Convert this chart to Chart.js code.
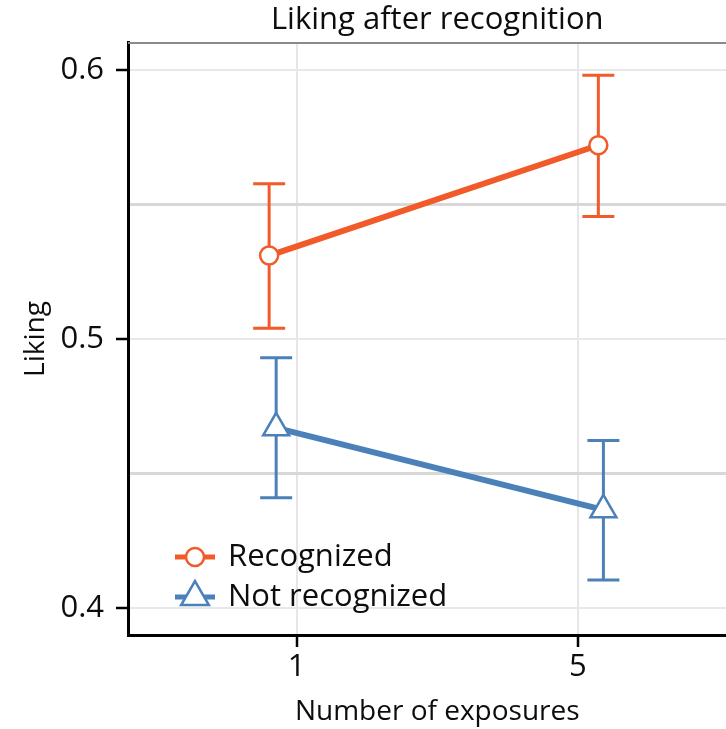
<!DOCTYPE html>
<html>
<head>
<meta charset="utf-8">
<script src="https://cdn.jsdelivr.net/npm/chart.js@4"></script>
<style>
html,body{margin:0;padding:0;background:#fff;overflow:hidden;width:726px;height:729px}
#c{display:block;position:absolute;left:0;top:0}
</style>
</head>
<body>
<canvas id="c" width="764" height="729" style="width:764px;height:729px"></canvas>
<script>
// ---- data ----
const categories = ['1', '5'];
const categoryPositions = [1, 2];
const seriesNames = ['Recognized', 'Not recognized'];
const recognizedDodge = [-0.098, 0.073];
const notRecognizedDodge = [-0.073, 0.091];
const recognizedMean = [0.531, 0.572];
const recognizedLow = [0.504, 0.5455];
const recognizedHigh = [0.5577, 0.598];
const notRecognizedMean = [0.467, 0.4365];
const notRecognizedLow = [0.441, 0.4104];
const notRecognizedHigh = [0.493, 0.4623];
const yTicks = [0.4, 0.45, 0.5, 0.55, 0.6];
const yLabelledTicks = [0.4, 0.5, 0.6];

const ORANGE = '#F15A29';
const BLUE = '#4B80B8';
const FONT = "'Open Sans', 'DejaVu Sans', sans-serif";
const FS = 31;
const TEXT = '#0d0d0d';

function pts(means, dodge) {
  return means.map((m, i) => ({ x: categoryPositions[i] + dodge[i], y: m }));
}

const errorBars = {
  id: 'errorBars',
  beforeDatasetsDraw(chart) {
    const ctx = chart.ctx;
    const xs = chart.scales.x, ys = chart.scales.y;
    chart.data.datasets.forEach(ds => {
      ctx.save();
      ctx.strokeStyle = ds.borderColor;
      ctx.lineWidth = 3;
      ds.data.forEach((p, i) => {
        const x = xs.getPixelForValue(p.x);
        const yl = ys.getPixelForValue(ds.low[i]);
        const yh = ys.getPixelForValue(ds.high[i]);
        ctx.beginPath();
        ctx.moveTo(x, yl); ctx.lineTo(x, yh);
        ctx.moveTo(x - 16, yl); ctx.lineTo(x + 16, yl);
        ctx.moveTo(x - 16, yh); ctx.lineTo(x + 16, yh);
        ctx.stroke();
      });
      ctx.restore();
    });
  }
};

const panelExtras = {
  id: 'panelExtras',
  afterDraw(chart) {
    const ctx = chart.ctx, ca = chart.chartArea;
    ctx.save();
    ctx.strokeStyle = '#8a8a8a';
    ctx.lineWidth = 2;
    ctx.beginPath();
    ctx.moveTo(ca.left, ca.top); ctx.lineTo(ca.right, ca.top);
    ctx.stroke();
    const rows = [ca.bottom - 78, ca.bottom - 38];
    chart.data.datasets.forEach((ds, i) => {
      const y = rows[i];
      const x0 = ca.left + 47, x1 = ca.left + 87, xm = ca.left + 67;
      ctx.strokeStyle = ds.borderColor;
      ctx.lineWidth = 5;
      ctx.beginPath(); ctx.moveTo(x0, y); ctx.lineTo(x1, y); ctx.stroke();
      ctx.fillStyle = '#fff';
      ctx.lineWidth = 2.5;
      ctx.beginPath();
      if (ds.pointStyle === 'circle') {
        ctx.arc(xm, y, 9, 0, Math.PI * 2);
      } else {
        const r = 16;
        ctx.moveTo(xm, y - r);
        ctx.lineTo(xm + r * Math.sin(2 * Math.PI / 3), y - r * Math.cos(2 * Math.PI / 3));
        ctx.lineTo(xm + r * Math.sin(4 * Math.PI / 3), y - r * Math.cos(4 * Math.PI / 3));
        ctx.closePath();
      }
      ctx.fill(); ctx.stroke();
      ctx.fillStyle = TEXT;
      ctx.font = FS + 'px ' + FONT;
      ctx.textBaseline = 'middle';
      ctx.textAlign = 'left';
      ctx.fillText(ds.label, ca.left + 100, y);
    });
    ctx.restore();
  }
};

new Chart(document.getElementById('c'), {
  type: 'line',
  data: {
    datasets: [
      {
        label: seriesNames[0],
        data: pts(recognizedMean, recognizedDodge),
        low: recognizedLow, high: recognizedHigh,
        borderColor: ORANGE, backgroundColor: ORANGE,
        borderWidth: 6,
        pointStyle: 'circle', pointRadius: 9,
        pointBackgroundColor: '#fff', pointBorderColor: ORANGE, pointBorderWidth: 2.5
      },
      {
        label: seriesNames[1],
        data: pts(notRecognizedMean, notRecognizedDodge),
        low: notRecognizedLow, high: notRecognizedHigh,
        borderColor: BLUE, backgroundColor: BLUE,
        borderWidth: 6,
        pointStyle: 'triangle', pointRadius: 15,
        pointBackgroundColor: '#fff', pointBorderColor: BLUE, pointBorderWidth: 2.5
      }
    ]
  },
  options: {
    responsive: false,
    maintainAspectRatio: false,
    devicePixelRatio: 1,
    animation: false,
    layout: { padding: 0 },
    plugins: {
      legend: { display: false },
      tooltip: { enabled: false },
      title: {
        display: true,
        text: 'Liking after recognition',
        fullSize: false,
        color: TEXT,
        font: { family: FONT, size: FS, weight: 'normal', lineHeight: 1.2 },
        padding: { top: 2, bottom: 3.8 }
      }
    },
    scales: {
      x: {
        type: 'linear',
        min: 0.4, max: 2.6,
        afterFit(s) { s.height = 94; },
        afterBuildTicks(s) { s.ticks = categoryPositions.map(v => ({ value: v })); },
        ticks: {
          callback: v => { const i = categoryPositions.indexOf(v); return i >= 0 ? categories[i] : ''; },
          color: TEXT, padding: 2, maxRotation: 0,
          font: { family: FONT, size: FS }
        },
        grid: { color: '#e6e6e6', lineWidth: 2, tickColor: '#000', tickLength: 12, tickWidth: 2.5 },
        border: { color: '#000', width: 3 },
        title: {
          display: true, text: 'Number of exposures', color: TEXT,
          font: { family: FONT, size: 28 }, padding: { top: 0, bottom: 0 }
        }
      },
      y: {
        type: 'linear',
        min: 0.39, max: 0.61,
        afterFit(s) { s.width = 128; },
        afterBuildTicks(s) { s.ticks = yTicks.map(v => ({ value: v })); },
        ticks: {
          callback: v => yLabelledTicks.includes(v) ? v.toFixed(1) : '',
          color: TEXT, padding: 12,
          font: { family: FONT, size: FS }
        },
        grid: {
          color: c => (c.tick && yLabelledTicks.includes(c.tick.value)) ? '#e8e8e8' : '#d8d8d8',
          lineWidth: c => (c.tick && yLabelledTicks.includes(c.tick.value)) ? 2 : 3,
          tickColor: c => (c.tick && yLabelledTicks.includes(c.tick.value)) ? '#000' : 'rgba(0,0,0,0)',
          tickLength: 12, tickWidth: 2.5
        },
        border: { color: '#000', width: 3 },
        title: {
          display: true, text: 'Liking', color: TEXT,
          font: { family: FONT, size: 28 }, padding: { top: 19, bottom: 0 }
        }
      }
    }
  },
  plugins: [errorBars, panelExtras]
});
</script>
</body>
</html>
